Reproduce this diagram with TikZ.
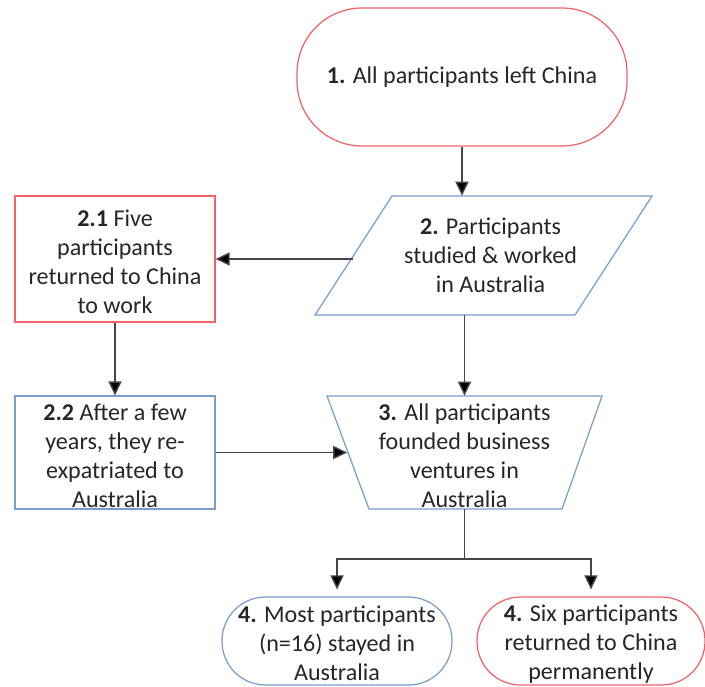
\documentclass[tikz,border=0pt]{standalone}
\usepackage{fontspec}
\setmainfont{Carlito}
\usetikzlibrary{arrows.meta}

\definecolor{termred}{RGB}{238,98,104}
\definecolor{boxblue}{RGB}{125,155,205}
\definecolor{linegray}{RGB}{70,70,70}

\begin{document}
\begin{tikzpicture}[x=0.02cm,y=-0.02cm]
    \tikzstyle{txt}=[align=center, text=black!85, inner sep=0pt, font=\fontsize{13.7}{16.5}\selectfont]
    \tikzstyle{redbox}=[draw=termred, line width=0.7pt, inner sep=0pt]
    \tikzstyle{bluebox}=[draw=boxblue, line width=0.7pt, inner sep=0pt]
    \tikzstyle{hidden}=[inner sep=0pt]
    \tikzstyle{arr}=[draw=linegray, line width=0.8pt, -{Triangle[length=8pt,width=7.5pt,fill=black]}]

    \useasboundingbox (0,0) rectangle (705,686);

    % start
    \node[redbox, rectangle, rounded corners=1.3cm, minimum width=6.6cm, minimum height=2.76cm,
          label={[txt]center:{\textbf{1.} All participants left China}}] (n1) at (462,77) {};

    % studied and worked (parallelogram)
    \node[hidden, minimum width=5.2cm, minimum height=2.38cm,
          label={[txt, xshift=4pt]center:{\textbf{2.} Participants\\studied \& worked\\in Australia}}] (p2) at (483.5,255.5) {};
    \draw[bluebox, shift={(p2.center)}] (-91.5,-59.5) -- (168.5,-59.5) -- (91.5,59.5) -- (-168.5,59.5) -- cycle;

    % side branch
    \node[redbox, rectangle, minimum width=4cm, minimum height=2.52cm,
          label={[txt, yshift=-1.5pt]center:{\textbf{2.1} Five\\participants\\returned to China\\to work}}] (r21) at (115,259) {};
    \node[bluebox, rectangle, minimum width=4cm, minimum height=2.26cm,
          label={[txt, yshift=-2pt]center:{\textbf{2.2} After a few\\years, they re-\\expatriated to\\Australia}}] (r22) at (115,452.5) {};

    % ventures (trapezium, wide side up)
    \node[hidden, minimum width=4.68cm, minimum height=2.26cm,
          label={[txt, yshift=-2pt]center:{\textbf{3.} All participants\\founded business\\ventures in\\Australia}}] (t3) at (464.5,452.5) {};
    \draw[bluebox, shift={(t3.center)}] (-137.5,-56.5) -- (137.5,-56.5) -- (97.5,56.5) -- (-95.5,56.5) -- cycle;

    % outcomes
    \node[bluebox, rectangle, rounded corners=0.87cm, minimum width=4.6cm, minimum height=1.76cm,
          label={[txt, yshift=-1.5pt]center:{\textbf{4.} Most participants\\(n=16) stayed in\\Australia}}] (o4a) at (337,641) {};
    \node[redbox, rectangle, rounded corners=0.87cm, minimum width=4.56cm, minimum height=1.76cm,
          label={[txt, yshift=-1.5pt]center:{\textbf{4.} Six participants\\returned to China\\permanently}}] (o4b) at (591,641) {};

    \coordinate (split) at (464.5,559);

    \draw[arr] (n1.south) -- (n1.south |- p2.north);
    \draw[arr] (p2.west |- r21.east) -- (r21.east);
    \draw[arr] (t3.north |- p2.south) -- (t3.north);
    \draw[arr] (r21) -- (r22);
    \draw[arr] (r22.east) -- (r22.east -| t3.west);
    \draw[draw=linegray, line width=0.8pt] (t3.south) -- (split);
    \draw[arr, shorten >=4pt] (split) -| (o4a.north);
    \draw[arr, shorten >=4pt] (split) -| (o4b.north);
\end{tikzpicture}
\end{document}
